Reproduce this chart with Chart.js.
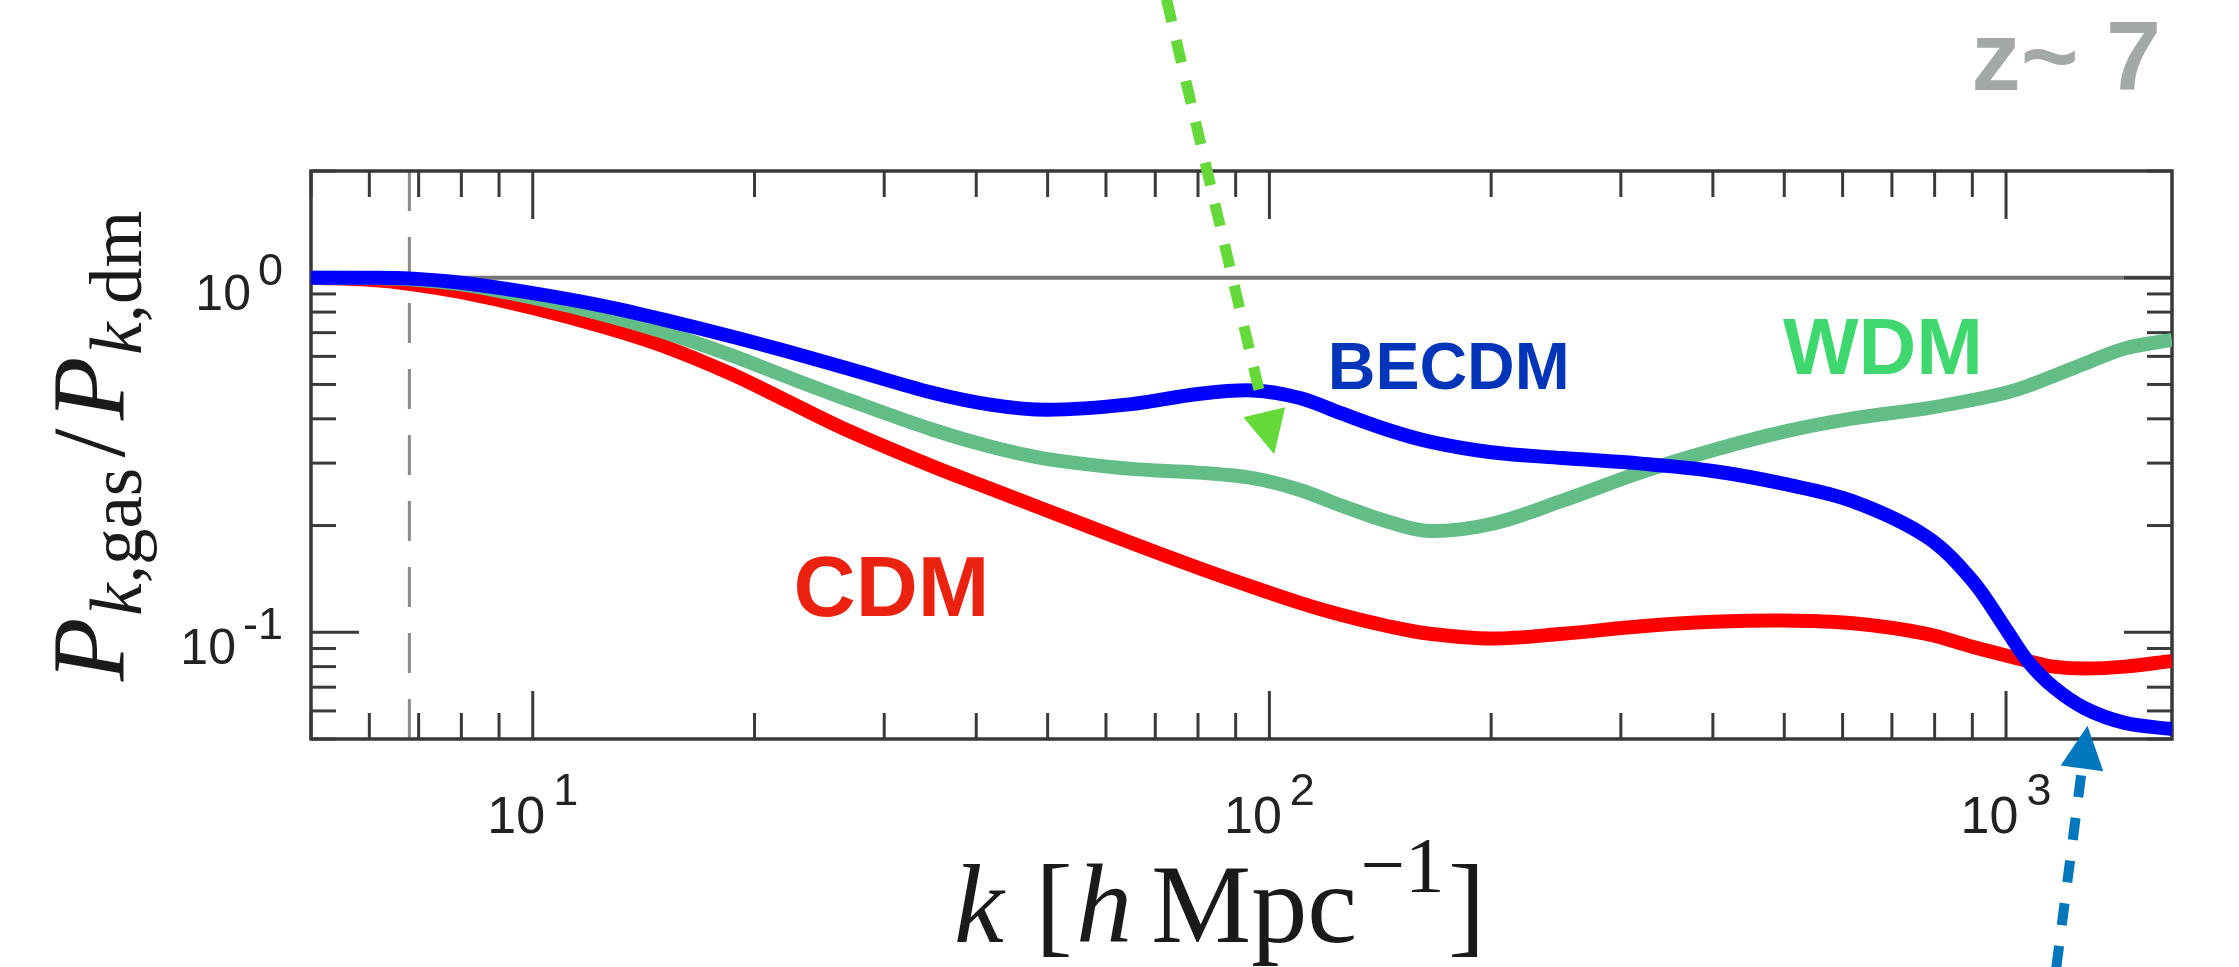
<!DOCTYPE html>
<html>
<head>
<meta charset="utf-8">
<title>P_k,gas / P_k,dm at z~7</title>
<script src="https://cdn.jsdelivr.net/npm/chart.js@4.4.3/dist/chart.umd.min.js"></script>
<style>
  html, body { margin: 0; padding: 0; background: #fff; }
  canvas { display: block; }
</style>
</head>
<body>
<canvas id="chart" width="2239" height="967"></canvas>
<script>
// wavenumber k [h/Mpc], shared by the three curves
const kValues = [5, 6, 6.8, 8, 10, 12.5, 15, 18.5, 22, 27, 35, 42, 50, 65, 80, 95, 110, 125,
  145, 165, 200, 250, 320, 400, 500, 620, 780, 900, 1000, 1070, 1160, 1280, 1450, 1680];

// P_k,gas / P_k,dm
const ratioBECDM = [1.0, 1.0, 0.995, 0.968, 0.905, 0.832, 0.763, 0.685, 0.622, 0.552, 0.473, 0.438, 0.424, 0.44,
  0.47, 0.481, 0.458, 0.415, 0.372, 0.345, 0.322, 0.31, 0.299, 0.285, 0.262, 0.234, 0.186, 0.14,
  0.102, 0.083, 0.07, 0.061, 0.0555, 0.0533];
const ratioWDM = [1.0, 0.998, 0.99, 0.958, 0.878, 0.787, 0.705, 0.607, 0.528, 0.45, 0.372, 0.333, 0.308, 0.289,
  0.282, 0.272, 0.252, 0.228, 0.205, 0.193, 0.202, 0.235, 0.283, 0.326, 0.368, 0.401, 0.428, 0.452,
  0.474, 0.495, 0.528, 0.573, 0.632, 0.668];
const ratioCDM = [1.0, 0.987, 0.962, 0.91, 0.822, 0.726, 0.643, 0.538, 0.452, 0.368, 0.293, 0.2533, 0.2203, 0.1786,
  0.152, 0.134, 0.121, 0.112, 0.104, 0.099, 0.096, 0.099, 0.104, 0.107, 0.108, 0.106, 0.099, 0.091,
  0.086, 0.083, 0.08, 0.079, 0.08, 0.083];

// axis ranges and labelled decades
const kRange = [5, 1680];
const ratioRange = [0.05, 2];
const xTickValues = [10, 100, 1000];
const xTickExponents = ['1', '2', '3'];
const yTickValues = [0.1, 1];
const yTickExponents = ['-1', '0'];
const kDashed = 6.8;

// annotations, anchored in data units (k, ratio)
const labels = [
  { text: 'z~ 7', k: 897, p: 3.375, color: '#a4a8a6', size: 99 },
  { text: 'BECDM', k: 120, p: 0.486, color: '#0035b9', size: 66 },
  { text: 'CDM', k: 22.6, p: 0.111, color: '#ec2211', size: 86 },
  { text: 'WDM', k: 498, p: 0.5356, color: '#3fd86f', size: 80 }
];
const arrows = [
  { from: [72.5, 6.10], to: [101.5, 0.318], color: '#66d93a', width: 11, dash: [23, 19] },
  { from: [1170, 0.01132], to: [1290, 0.0545], color: '#0076bc', width: 10, dash: [22, 21] }
];

const SANS = '"Liberation Sans", Arial, sans-serif';
const SERIF = '"Liberation Serif", "Times New Roman", serif';

function runsWidth(ctx, runs) {
  let w = 0;
  for (const r of runs) {
    ctx.font = r.font;
    w += ctx.measureText(r.text).width + (r.gap || 0);
  }
  return w;
}

function drawRuns(ctx, runs, x, y) {
  let cx = x;
  for (const r of runs) {
    ctx.font = r.font;
    ctx.fillText(r.text, cx, y + (r.dy || 0));
    cx += ctx.measureText(r.text).width + (r.gap || 0);
  }
}

function yTitleRuns(s) {
  const sub = Math.round(s * 0.7);
  return [
    { text: 'P', font: `italic ${s}px ${SERIF}`, gap: 2 },
    { text: 'k', font: `italic ${sub}px ${SERIF}`, dy: s * 0.16 },
    { text: ',gas', font: `${sub}px ${SERIF}`, dy: s * 0.16, gap: s * 0.1 },
    { text: '/', font: `${s}px ${SERIF}`, gap: s * 0.08 },
    { text: 'P', font: `italic ${s}px ${SERIF}`, gap: 2 },
    { text: 'k', font: `italic ${sub}px ${SERIF}`, dy: s * 0.16 },
    { text: ',dm', font: `${sub}px ${SERIF}`, dy: s * 0.16 }
  ];
}

function xTitleRuns(s) {
  const sup = Math.round(s * 0.7);
  return [
    { text: 'k', font: `italic ${s}px ${SERIF}`, gap: s * 0.28 },
    { text: '[', font: `${s}px ${SERIF}`, gap: s * 0.03 },
    { text: 'h', font: `italic ${s}px ${SERIF}`, gap: s * 0.17 },
    { text: 'Mpc', font: `${s}px ${SERIF}`, gap: s * 0.03 },
    { text: '\u2212' + '1', font: `${sup}px ${SERIF}`, dy: -s * 0.45, gap: s * 0.03 },
    { text: ']', font: `${s}px ${SERIF}` }
  ];
}

function fitSize(ctx, make, target) {
  return 100 * target / runsWidth(ctx, make(100));
}

function logTicks(min, max) {
  const out = [];
  for (let e = Math.floor(Math.log10(min)); e <= Math.ceil(Math.log10(max)); e++) {
    for (let m = 1; m <= 9; m++) {
      const v = m * Math.pow(10, e);
      if (v >= min * 0.999 && v <= max * 1.001) out.push({ v, major: m === 1 });
    }
  }
  return out;
}

function seg(ctx, x1, y1, x2, y2) {
  ctx.beginPath();
  ctx.moveTo(x1, y1);
  ctx.lineTo(x2, y2);
  ctx.stroke();
}

const whiteBackground = {
  id: 'whiteBackground',
  beforeDraw(chart) {
    const { ctx, width, height } = chart;
    ctx.save();
    ctx.fillStyle = '#fff';
    ctx.fillRect(0, 0, width, height);
    ctx.restore();
  }
};

// box, inward ticks, reference lines, tick labels and axis titles
const axesFrame = {
  id: 'axesFrame',
  beforeDatasetsDraw(chart) {
    const { ctx, chartArea: a, scales: { x, y } } = chart;
    ctx.save();
    ctx.lineCap = 'butt';

    // unity line
    ctx.strokeStyle = '#767676';
    ctx.lineWidth = 4;
    const y1 = y.getPixelForValue(1);
    seg(ctx, a.left, y1, a.right, y1);

    // dashed vertical marker
    ctx.strokeStyle = '#8a8a8a';
    ctx.lineWidth = 3;
    ctx.setLineDash([40, 26]);
    const xd = x.getPixelForValue(kDashed);
    seg(ctx, xd, a.top, xd, a.bottom);
    ctx.setLineDash([]);

    // ticks on all four sides, pointing in
    ctx.strokeStyle = '#3a3a3a';
    ctx.lineWidth = 3;
    for (const t of logTicks(kRange[0], kRange[1])) {
      const px = x.getPixelForValue(t.v);
      const len = t.major ? 48 : 26;
      seg(ctx, px, a.bottom, px, a.bottom - len);
      seg(ctx, px, a.top, px, a.top + len);
    }
    for (const t of logTicks(ratioRange[0], ratioRange[1])) {
      const py = y.getPixelForValue(t.v);
      const len = t.major ? 48 : 25;
      seg(ctx, a.left, py, a.left + len, py);
      seg(ctx, a.right, py, a.right - len, py);
    }

    // frame
    ctx.strokeStyle = '#383838';
    ctx.lineWidth = 3.5;
    ctx.strokeRect(a.left, a.top, a.right - a.left, a.bottom - a.top);

    // tick labels
    ctx.fillStyle = '#222';
    ctx.textBaseline = 'alphabetic';
    ctx.textAlign = 'left';
    const baseFont = `52px ${SANS}`;
    const supFont = `45px ${SANS}`;
    xTickValues.forEach((v, i) => {
      const px = x.getPixelForValue(v);
      ctx.font = baseFont;
      const wb = ctx.measureText('10').width;
      ctx.font = supFont;
      const ws = ctx.measureText(xTickExponents[i]).width;
      const left = px - (wb + 8 + ws) / 2;
      ctx.font = baseFont;
      ctx.fillText('10', left, a.bottom + 94);
      ctx.font = supFont;
      ctx.fillText(xTickExponents[i], left + wb + 8, a.bottom + 66);
    });
    yTickValues.forEach((v, i) => {
      const py = y.getPixelForValue(v);
      ctx.font = supFont;
      const ws = ctx.measureText(yTickExponents[i]).width;
      const supX = a.left - 28 - ws;
      ctx.fillText(yTickExponents[i], supX, py + 7);
      ctx.font = `50px ${SANS}`;
      const wb = ctx.measureText('10').width;
      ctx.fillText('10', supX - 7 - wb, py + 32);
    });

    // axis titles
    ctx.fillStyle = '#1a1a1a';
    const sx = fitSize(ctx, xTitleRuns, 531);
    drawRuns(ctx, xTitleRuns(sx), 954, 942);

    const sy = fitSize(ctx, yTitleRuns, 470);
    const yr = yTitleRuns(sy);
    ctx.save();
    ctx.translate(124, 446);
    ctx.rotate(-Math.PI / 2);
    drawRuns(ctx, yr, -runsWidth(ctx, yr) / 2, 0);
    ctx.restore();

    ctx.restore();
  },
  afterDatasetsDraw(chart) {
    const { ctx, scales: { x, y } } = chart;
    ctx.save();

    // dashed arrows
    for (const ar of arrows) {
      const x0 = x.getPixelForValue(ar.from[0]);
      const y0 = y.getPixelForValue(ar.from[1]);
      const x1 = x.getPixelForValue(ar.to[0]);
      const y1 = y.getPixelForValue(ar.to[1]);
      const len = Math.hypot(x1 - x0, y1 - y0);
      const ux = (x1 - x0) / len, uy = (y1 - y0) / len;
      const head = 43, half = 21.5;
      const bx = x1 - ux * head, by = y1 - uy * head;
      ctx.strokeStyle = ar.color;
      ctx.lineWidth = ar.width;
      ctx.setLineDash(ar.dash);
      seg(ctx, x0, y0, bx - ux * 6, by - uy * 6);
      ctx.setLineDash([]);
      ctx.fillStyle = ar.color;
      ctx.beginPath();
      ctx.moveTo(x1, y1);
      ctx.lineTo(bx - uy * half, by + ux * half);
      ctx.lineTo(bx + uy * half, by - ux * half);
      ctx.closePath();
      ctx.fill();
    }

    // text labels
    ctx.textAlign = 'left';
    ctx.textBaseline = 'alphabetic';
    for (const l of labels) {
      ctx.font = `bold ${l.size}px ${SANS}`;
      ctx.fillStyle = l.color;
      ctx.fillText(l.text, x.getPixelForValue(l.k), y.getPixelForValue(l.p));
    }
    ctx.restore();
  }
};

const toPoints = vals => kValues.map((k, i) => ({ x: k, y: vals[i] }));

new Chart(document.getElementById('chart'), {
  type: 'line',
  data: {
    datasets: [
      { label: 'BECDM', data: toPoints(ratioBECDM), borderColor: '#0000ff' },
      { label: 'WDM', data: toPoints(ratioWDM), borderColor: '#63bd87' },
      { label: 'CDM', data: toPoints(ratioCDM), borderColor: '#ff0000' }
    ]
  },
  options: {
    responsive: false,
    animation: false,
    devicePixelRatio: 1,
    layout: { padding: { left: 311, right: 67, top: 171, bottom: 228 } },
    scales: {
      x: { type: 'logarithmic', min: kRange[0], max: kRange[1], display: false },
      y: { type: 'logarithmic', min: ratioRange[0], max: ratioRange[1], display: false }
    },
    elements: {
      point: { radius: 0, hoverRadius: 0 },
      line: { borderWidth: 14, tension: 0.35, fill: false, borderJoinStyle: 'round' }
    },
    datasets: { line: { clip: 0 } },
    plugins: {
      legend: { display: false },
      title: { display: false },
      tooltip: { enabled: false }
    }
  },
  plugins: [whiteBackground, axesFrame]
});
</script>
</body>
</html>
